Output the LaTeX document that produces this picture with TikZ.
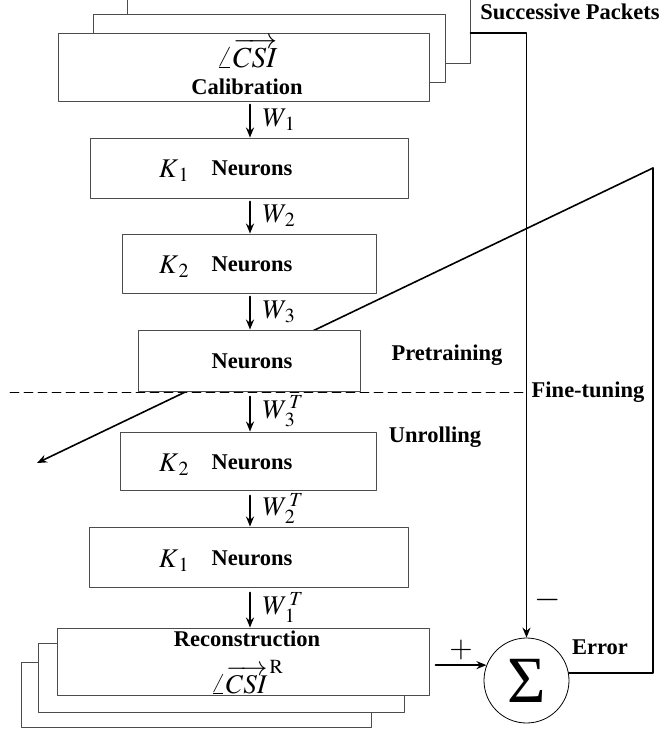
\documentclass[tikz,border=0pt]{standalone}
\usepackage{mathptmx}
\usepackage{fontspec}
\setmainfont{Liberation Serif}
\usetikzlibrary{arrows.meta,positioning,calc}

\begin{document}
\begin{tikzpicture}[x=1pt, y=-1pt, line cap=round, line join=round,
    layer/.style={draw=black!70, line width=0.9pt, fill=white, inner sep=0pt},
    flow/.style={line width=1.6pt, -{Stealth[length=10pt,width=8pt]}},
    wire/.style={line width=1.6pt},
    tag/.style={font=\fontsize{22.5}{24}\selectfont\bfseries, inner sep=0pt},
    sym/.style={font=\fontsize{27}{29}\selectfont, inner sep=0pt},
    big/.style={font=\fontsize{27}{29}\selectfont, inner sep=0pt}]
    \useasboundingbox (0,0) rectangle (665,734);
    \coordinate (col) at (250,0);

    % Calibration stack
    \node[layer, minimum width=343, minimum height=68] (calB) at (298.5,29) {};
    \node[layer, minimum width=352, minimum height=68] (calM) at (269,48) {};
    \node[layer, minimum width=371, minimum height=68] (calF) at (243.5,67) {};
    \node[big, font=\fontsize{29}{31}\selectfont] (calSym) at (247,53) {$\angle\overrightarrow{CSI}$};
    \node[tag] (calTxt) at (247,87) {Calibration};
    \node[tag] (packets) at (570,12) {Successive Packets};

    % Error node
    \node[circle, draw, line width=0.8pt, minimum size=85, inner sep=0pt] (sum) at (526.5,680.5)
        {\fontsize{66}{66}\selectfont Σ};
    \node[tag] (err) at (600,647) {Error};

    % feedback lines
    \coordinate (kink) at (653,168);
    \coordinate (lost) at (37,463);
    \draw[flow] (kink) -- (lost);
    \draw[wire] (kink) |- (sum.10);
    \draw[flow] ([yshift=-4pt]calB.east) -| (sum.north);
    \node[sym, font=\fontsize{34}{34}\selectfont] (minus) at (548,600) {$-$};

    \draw[dashed, dash pattern=on 9pt off 5pt, line width=0.9pt] (10,392) -- (525,392);
    \node[tag] (fine) at (588,392) {Fine-tuning};
    \node[tag] (pre) at (447,355) {Pretraining};
    \node[tag] (unroll) at (435,437) {Unrolling};

    % Encoder
    \node[layer, minimum width=318, minimum height=60] (encA) at (249,168) {};
    \node[tag] (encAtxt) at (252,168) {Neurons};
    \node[big] (encAk) at (174,171) {$K_{\,1}$};
    \node[layer, minimum width=254, minimum height=59] (encB) at (249,263.5) {};
    \node[tag] (encBtxt) at (252,264) {Neurons};
    \node[big] (encBk) at (174,267) {$K_{\,2}$};
    \node[layer, minimum width=222, minimum height=61] (code) at (249,360.5) {};
    \node[tag] (codeTxt) at (252,361) {Neurons};

    % Decoder
    \node[layer, minimum width=256, minimum height=58] (decB) at (248,461) {};
    \node[tag] (decBtxt) at (252,462) {Neurons};
    \node[big] (decBk) at (174,465) {$K_{\,2}$};
    \node[layer, minimum width=319, minimum height=60] (decA) at (248.5,557) {};
    \node[tag] (decAtxt) at (252,558) {Neurons};
    \node[big] (decAk) at (174,561) {$K_{\,1}$};

    % Reconstruction stack
    \node[layer, minimum width=350, minimum height=65] (recB) at (196,694.5) {};
    \node[layer, minimum width=366, minimum height=69] (recM) at (221,677.5) {};
    \node[layer, minimum width=372, minimum height=67] (recF) at (243,661.5) {};
    \node[tag] (recTxt) at (247,639) {Reconstruction};
    \node[big] (recSym) at (247,677) {$\angle\overrightarrow{CSI}^{\,\mathrm{R}}$};

    % weights
    \draw[flow, shorten <=3pt] (col |- calF.south) -- (col |- encA.north)
        node[midway, right=12pt, sym] {$W_{\,1}$};
    \draw[flow, shorten <=3pt] (col |- encA.south) -- (col |- encB.north)
        node[midway, right=12pt, sym] {$W_{\,2}$};
    \draw[flow, shorten <=3pt] (col |- encB.south) -- (col |- code.north)
        node[midway, right=12pt, sym] {$W_{\,3}$};
    \draw[flow, shorten <=5pt] (col |- code.south) -- (col |- decB.north)
        node[midway, right=12pt, sym] {$W_{\,3}^{\,T}$};
    \draw[flow, shorten <=5pt] (col |- decB.south) -- (col |- decA.north)
        node[midway, right=12pt, sym] {$W_{\,2}^{\,T}$};
    \draw[flow, shorten <=5pt] (col |- decA.south) -- (col |- recF.north)
        node[midway, right=12pt, sym] {$W_{\,1}^{\,T}$};

    \draw[flow] ([xshift=6pt]recF.east |- sum.159) -- (sum.159)
        node[midway, above=4pt, sym, font=\fontsize{30}{30}\selectfont] {$+$};
\end{tikzpicture}
\end{document}
